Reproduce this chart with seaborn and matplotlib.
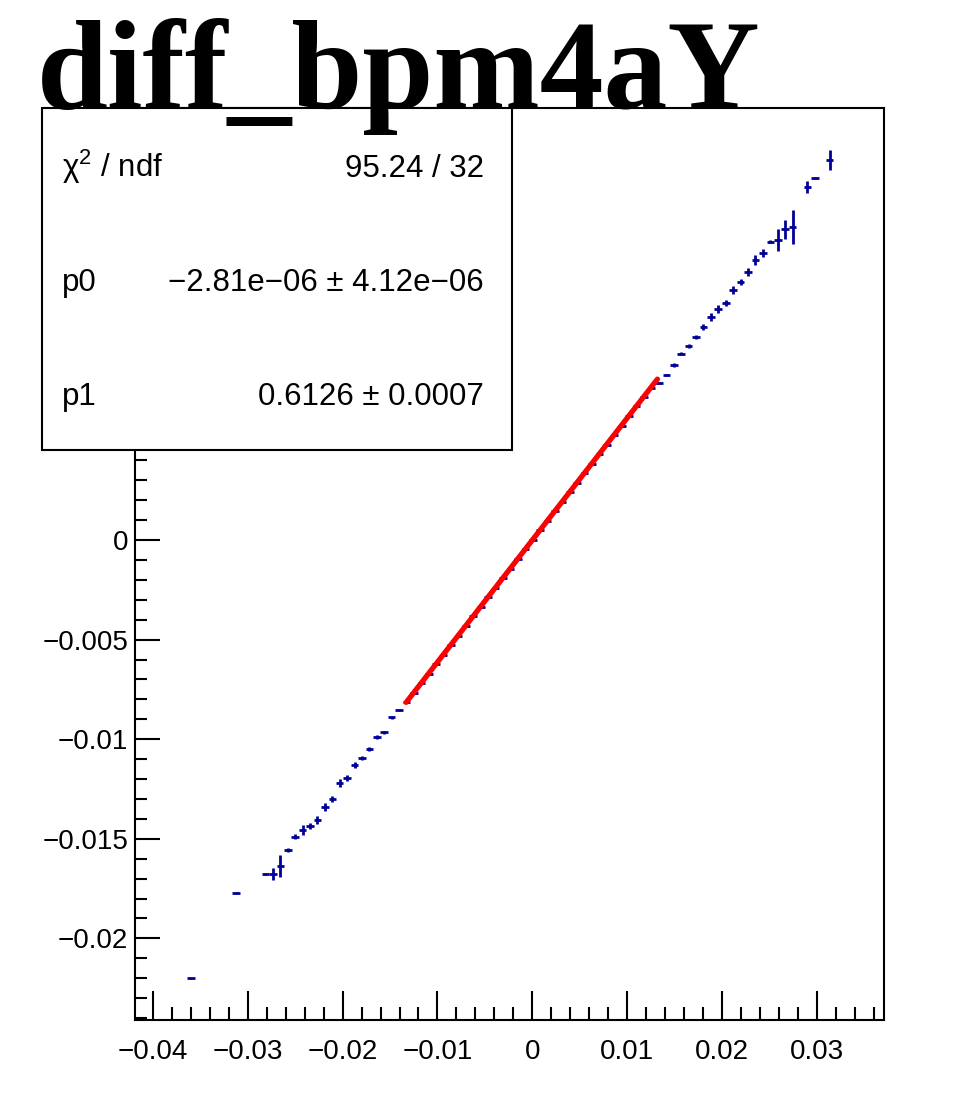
import numpy as np
import pandas as pd
import seaborn as sns
import matplotlib
matplotlib.use("Agg")
import matplotlib.pyplot as plt
from matplotlib.patches import Rectangle
from matplotlib.ticker import MultipleLocator, FuncFormatter

# ---------------- data ----------------
title = "diff_bpm4aY"

bin_x = [-0.03597, -0.03127, -0.02814, -0.02736, -0.02657, -0.02579, -0.02501,
         -0.02422, -0.02344, -0.02266, -0.02188, -0.02109, -0.02031, -0.01953,
         -0.01874, -0.01796, -0.01718, -0.01639, -0.01561, -0.01483, -0.01405,
         -0.01326, -0.01248, -0.01170, -0.01091, -0.01013, -0.00935, -0.00856,
         -0.00778, -0.00700, -0.00622, -0.00543, -0.00465, -0.00387, -0.00308,
         -0.00230, -0.00152, -0.00073, 0.00005, 0.00083, 0.00162, 0.00240,
         0.00318, 0.00396, 0.00475, 0.00553, 0.00631, 0.00710, 0.00788,
         0.00866, 0.00945, 0.01023, 0.01101, 0.01179, 0.01258,
         0.01336, 0.01414, 0.01493, 0.01571, 0.01649, 0.01728, 0.01806,
         0.01884, 0.01962, 0.02041, 0.02119, 0.02197, 0.02276, 0.02354,
         0.02432, 0.02511, 0.02589, 0.02667, 0.02745, 0.02902, 0.02980, 0.03137]

mean_y = [-0.02201, -0.01771, -0.01677, -0.01677, -0.01637, -0.01557, -0.01490,
          -0.01456, -0.01436, -0.01406, -0.01342, -0.01302, -0.01222, -0.01197,
          -0.01130, -0.01093, -0.01051, -0.00991, -0.00966, -0.00890, -0.00854,
          -0.00815, -0.00768, -0.00719, -0.00671, -0.00623, -0.00576, -0.00527,
          -0.00480, -0.00432, -0.00383, -0.00336, -0.00287, -0.00240, -0.00191,
          -0.00143, -0.00096, -0.00047, 0.00001, 0.00049, 0.00097, 0.00145,
          0.00192, 0.00240, 0.00288, 0.00336, 0.00384, 0.00432, 0.00480,
          0.00527, 0.00575, 0.00623, 0.00671, 0.00718, 0.00766,
          0.00790, 0.00829, 0.00879, 0.00937, 0.00974, 0.01018, 0.01068,
          0.01121, 0.01163, 0.01189, 0.01255, 0.01297, 0.01347, 0.01406,
          0.01440, 0.01498, 0.01506, 0.01560, 0.01573, 0.01774, 0.01819, 0.01908]

err_y = [0.00004, 0.00004, 0.00005, 0.00030, 0.00055, 0.00010, 0.00012,
         0.00025, 0.00015, 0.00020, 0.00020, 0.00015, 0.00020, 0.00015,
         0.00015, 0.00010, 0.00010, 0.00010, 0.00008, 0.00008, 0.00006,
         0.00003, 0.00003, 0.00003, 0.00003, 0.00003, 0.00003, 0.00003,
         0.00003, 0.00003, 0.00003, 0.00003, 0.00003, 0.00003, 0.00003,
         0.00003, 0.00003, 0.00003, 0.00003, 0.00003, 0.00003, 0.00003,
         0.00003, 0.00003, 0.00003, 0.00003, 0.00003, 0.00003, 0.00003,
         0.00003, 0.00003, 0.00003, 0.00003, 0.00003, 0.00003,
         0.00005, 0.00005, 0.00008, 0.00008, 0.00010, 0.00010, 0.00015,
         0.00020, 0.00020, 0.00015, 0.00020, 0.00015, 0.00020, 0.00025,
         0.00020, 0.00008, 0.00055, 0.00050, 0.00085, 0.00030, 0.00005, 0.00050]

bin_half_width = 0.00040

# fit parameters and range
p0 = -2.81e-06
p1 = 0.6126
fit_range = [-0.0133, 0.0132]

stats_labels = ["\u03c7$^{2}$ / ndf", "p0", "p1"]
stats_values = ["95.24 / 32", "\u22122.81e\u221206 \u00b1 4.12e\u221206", "0.6126 \u00b1 0.0007"]

xlim = (-0.0419, 0.0371)
ylim = (-0.0241, 0.0217)

# ---------------- plotting ----------------
sns.set_theme(style="ticks")
plt.rcParams['font.family'] = ['Liberation Sans', 'DejaVu Sans']
plt.rcParams['mathtext.fontset'] = 'custom'
plt.rcParams['mathtext.rm'] = 'Liberation Sans'
plt.rcParams['mathtext.it'] = 'Liberation Sans'
plt.rcParams['mathtext.default'] = 'regular'
plt.rcParams['text.color'] = 'black'
plt.rcParams['xtick.color'] = 'black'
plt.rcParams['ytick.color'] = 'black'
plt.rcParams['xtick.labelcolor'] = 'black'
plt.rcParams['ytick.labelcolor'] = 'black'

W, H = 960, 1103
fig = plt.figure(figsize=(W / 100, H / 100), dpi=100)
fig.patch.set_facecolor("white")
ax = fig.add_axes([135 / W, 1 - 1020 / H, (884 - 135) / W, (1020 - 108) / H])
ax.set_facecolor("white")

df = pd.DataFrame({"x": bin_x, "y": mean_y, "ey": err_y})
ax.errorbar(df["x"], df["y"], yerr=df["ey"], xerr=bin_half_width,
            fmt="none", ecolor="#000099", elinewidth=2.0, capsize=0, zorder=2)

fit_df = pd.DataFrame({"x": fit_range,
                       "y": [p0 + p1 * v for v in fit_range]})
sns.lineplot(data=fit_df, x="x", y="y", color="#ff0000", linewidth=3.8,
             ax=ax, zorder=3)

ax.set_xlim(*xlim)
ax.set_ylim(*ylim)
ax.set_xlabel("")
ax.set_ylabel("")

fmt = FuncFormatter(lambda v, p: ("%g" % round(v, 6)).replace("-", "\u2212") if abs(v) > 1e-12 else "0")
ax.xaxis.set_major_locator(MultipleLocator(0.01))
ax.xaxis.set_minor_locator(MultipleLocator(0.002))
ax.yaxis.set_major_locator(MultipleLocator(0.005))
ax.yaxis.set_minor_locator(MultipleLocator(0.001))
ax.xaxis.set_major_formatter(fmt)
ax.yaxis.set_major_formatter(fmt)

ax.tick_params(axis="x", which="major", direction="in", length=21, width=1.5,
               labelsize=20, pad=14, colors="black", top=False)
ax.tick_params(axis="x", which="minor", direction="in", length=9.5, width=1.5, top=False)
ax.tick_params(axis="y", which="major", direction="in", length=18, width=1.5,
               labelsize=20, pad=5, colors="black", right=False)
ax.tick_params(axis="y", which="minor", direction="in", length=8.6, width=1.5, right=False)
for s in ax.spines.values():
    s.set_visible(True)
    s.set_linewidth(1.5)
    s.set_color("black")

# stats box
box = Rectangle((42 / W, 1 - 450 / H), (512 - 42) / W, (450 - 108) / H,
                transform=fig.transFigure, facecolor="white", edgecolor="black",
                linewidth=1.5, zorder=10)
fig.add_artist(box)
for lab, val, yb in zip(stats_labels, stats_values, [177, 291, 405]):
    fig.text(62 / W, 1 - yb / H, lab, fontsize=22.5, ha="left", va="baseline",
             color="black", zorder=11)
    fig.text(484 / W, 1 - yb / H, val, fontsize=22.5, ha="right", va="baseline",
             color="black", zorder=11)

# title
fig.text(37 / W, 1 - 108 / H, title, fontsize=92, fontweight="bold", color="black",
         family=["Liberation Serif", "DejaVu Serif"], ha="left", va="baseline", zorder=12)

fig.savefig("out.png", dpi=100, facecolor="white")
